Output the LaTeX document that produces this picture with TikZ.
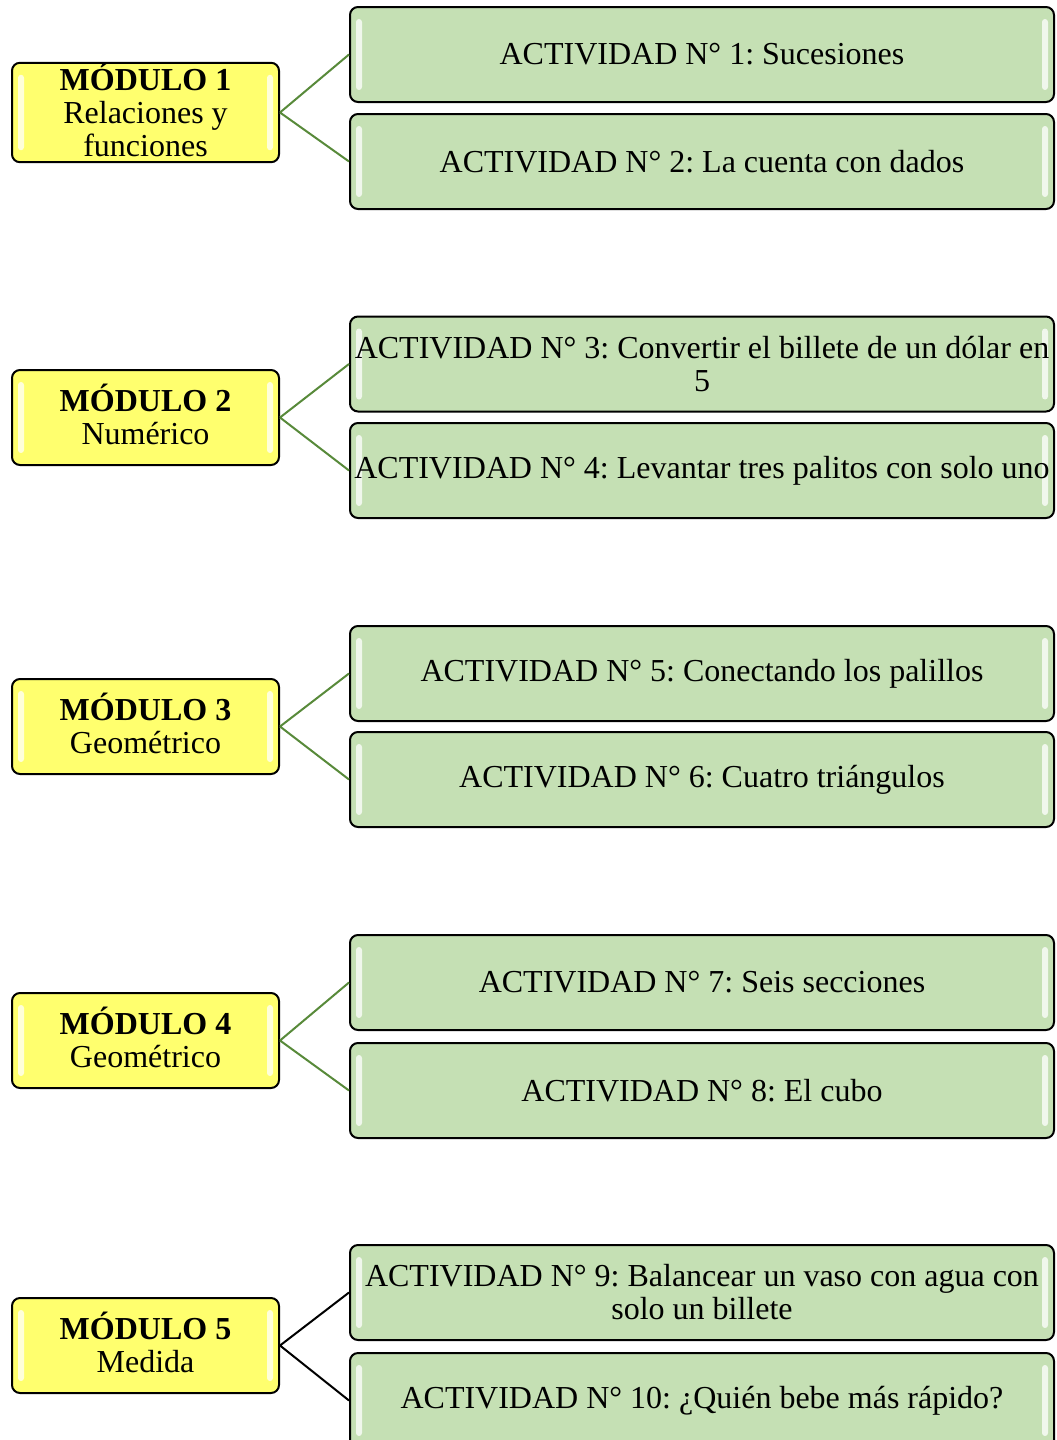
\documentclass[tikz,border=0pt]{standalone}
\usepackage{fontspec}
\setmainfont{Liberation Serif}
\frenchspacing
\definecolor{modfill}{RGB}{255,255,110}
\definecolor{actfill}{RGB}{197,224,180}
\definecolor{linkgreen}{RGB}{88,138,58}
\newcommand{\lift}{\rule[-3pt]{0pt}{0pt}}

\begin{document}
\begin{tikzpicture}[x = 0.5pt, y = -0.5pt, font = \fontsize{16}{16.5}\selectfont,
    glossy/.style = {path picture = {
        \fill[white, opacity = 0.75, rounded corners = 1.5pt]
            ([xshift = 3pt, yshift = -6pt]path picture bounding box.north west) rectangle
            ([xshift = 6pt, yshift = 6pt]path picture bounding box.south west);
        \fill[white, opacity = 0.75, rounded corners = 1.5pt]
            ([xshift = -6pt, yshift = -6pt]path picture bounding box.north east) rectangle
            ([xshift = -3pt, yshift = 6pt]path picture bounding box.south east);}},
    modulo/.style = {draw = black, line width = 1pt, rounded corners = 4pt, fill = modfill,
        glossy, minimum width = 133.5pt, minimum height = 47.5pt, inner sep = 0pt, align = center},
    actividad/.style = {draw = black, line width = 1pt, rounded corners = 4pt, fill = actfill,
        glossy, minimum width = 352pt, minimum height = 47.5pt, inner sep = 0pt, align = center},
    enlace/.style = {draw = linkgreen, line width = 1pt}]
    \useasboundingbox (0, 0) rectangle (1056, 1440);
    \clip (0, 0) rectangle (1056, 1440);

    % modulos
    \node (m1) at (145.5, 112.5) [modulo] {\textbf{MÓDULO 1}\\Relaciones y\\funciones\lift};
    \node (m2) at (145.5, 417.5) [modulo] {\textbf{MÓDULO 2}\\Numérico\lift};
    \node (m3) at (145.5, 726.5) [modulo] {\textbf{MÓDULO 3}\\Geométrico\lift};
    \node (m4) at (145.5, 1040.5) [modulo] {\textbf{MÓDULO 4}\\Geométrico\lift};
    \node (m5) at (145.5, 1345.5) [modulo] {\textbf{MÓDULO 5}\\Medida\lift};

    % actividades
    \node (a1) at (702, 54.5) [actividad] {ACTIVIDAD N° 1: Sucesiones};
    \node (a2) at (702, 161.5) [actividad] {ACTIVIDAD N° 2: La cuenta con dados};
    \node (a3) at (702, 364) [actividad] {ACTIVIDAD N° 3: Convertir el billete de un dólar en\\5};
    \node (a4) at (702, 470.5) [actividad] {ACTIVIDAD N° 4: Levantar tres palitos con solo uno};
    \node (a5) at (702, 673.5) [actividad] {ACTIVIDAD N° 5: Conectando los palillos};
    \node (a6) at (702, 779.5) [actividad] {ACTIVIDAD N° 6: Cuatro triángulos};
    \node (a7) at (702, 982.5) [actividad] {ACTIVIDAD N° 7: Seis secciones};
    \node (a8) at (702, 1090.5) [actividad] {ACTIVIDAD N° 8: El cubo};
    \node (a9) at (702, 1292.5) [actividad] {ACTIVIDAD N° 9: Balancear un vaso con agua con\\solo un billete};
    \node (a10) at (702, 1400.5) [actividad] {ACTIVIDAD N° 10: ¿Quién bebe más rápido?};

    % enlaces
    \foreach \m/\a/\b in {1/1/2, 2/3/4, 3/5/6, 4/7/8}
    \draw[enlace] (m\m.east) -- (a\a.west) (m\m.east) -- (a\b.west);
    \draw[enlace, draw = black] (m5.east) -- (a9.west) (m5.east) -- (a10.west);
\end{tikzpicture}
\end{document}
